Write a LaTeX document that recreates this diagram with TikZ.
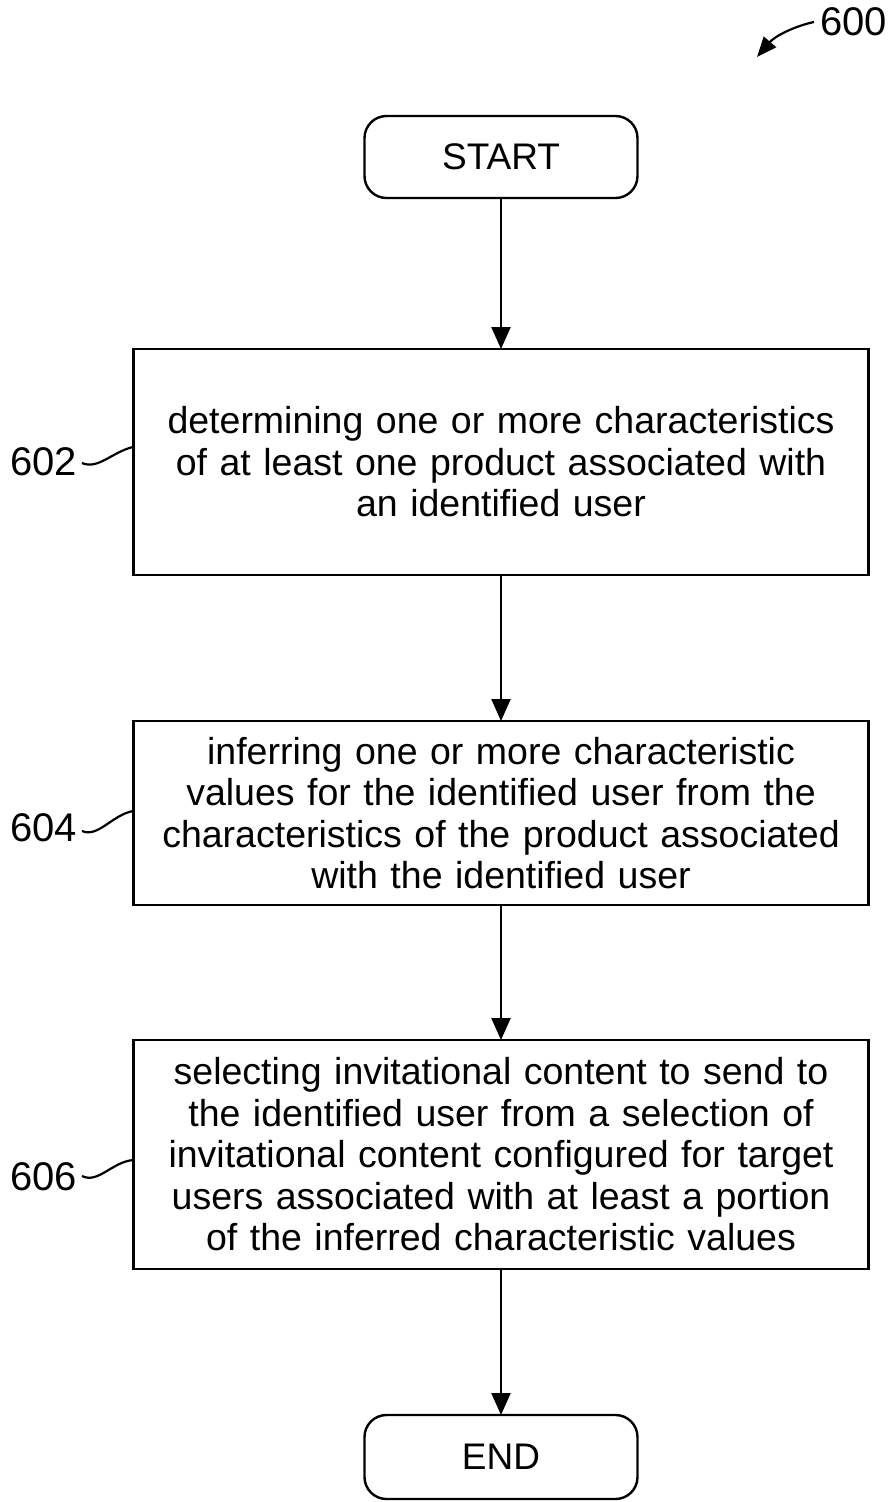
\documentclass[tikz,border=0pt]{standalone}
\usepackage{fontspec}
\setmainfont{Liberation Sans}
\usetikzlibrary{arrows.meta}
\begin{document}
\begin{tikzpicture}[x=1pt,y=-1pt,
  every node/.style={inner sep=0pt,outer sep=0pt},
  line/.style={line width=2.4pt,draw=black},
  procbox/.style={line, rectangle, minimum width=735pt, text width=725pt, align=center,
    font=\fontsize{37.5}{41.5}\selectfont},
  termbox/.style={line, rectangle, rounded corners=22pt, minimum width=273pt, minimum height=82pt,
    font=\fontsize{37}{40}\selectfont},
  flow/.style={line, -{Triangle[length=22pt,width=19pt]}},
  reflabel/.style={font=\fontsize{40}{42}\selectfont},
  leader/.style={line width=2.2pt}]
\useasboundingbox (0,0) rectangle (894,1502);

% terminals and process steps
\node[termbox] (start) at (501,157) {START};
\node[procbox, minimum height=226pt] (s602) at (501,462)
  {determining one or more characteristics\\ of at least one product associated with\\ an identified user};
\node[procbox, minimum height=184pt] (s604) at (501,813)
  {inferring one or more characteristic\\ values for the identified user from the\\ characteristics of the product associated\\ with the identified user};
\node[procbox, minimum height=229pt] (s606) at (501,1154.5)
  {selecting invitational content to send to\\ the identified user from a selection of\\ invitational content configured for target\\ users associated with at least a portion\\ of the inferred characteristic values};
\node[termbox, minimum height=84pt] (end) at (501,1457) {END};

% flow arrows
\draw[flow] (start) -- (s602);
\draw[flow] (s602) -- (s604);
\draw[flow] (s604) -- (s606);
\draw[flow] (s606) -- (end);

% reference numerals
\node[reflabel, anchor=west] (l600) at (820,22) {600};
\coordinate (a600) at (757,57);
\draw[leader, -{Triangle[length=20pt,width=16pt]}] (l600.west) ++(-6,0) .. controls (795,26) and (775,36) .. (a600);

\node[reflabel, anchor=east] (l602) at (77,462) {602};
\coordinate (t602) at (133,447);
\draw[leader] (l602.east) ++(5,1) .. controls (98,470) and (112,452) .. (t602);

\node[reflabel, anchor=east] (l604) at (77,828) {604};
\coordinate (t604) at (133,811);
\draw[leader] (l604.east) ++(5,3) .. controls (98,838) and (112,815) .. (t604);

\node[reflabel, anchor=east] (l606) at (77,1177) {606};
\coordinate (t606) at (133,1160);
\draw[leader] (l606.east) ++(5,-1) .. controls (98,1184) and (112,1162) .. (t606);
\end{tikzpicture}
\end{document}
